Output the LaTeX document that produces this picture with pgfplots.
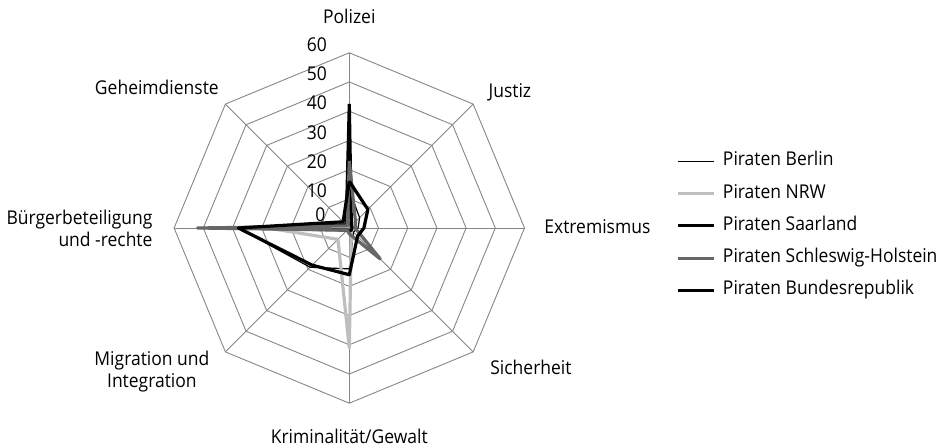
\documentclass[border=0pt]{standalone}
\usepackage{fontspec}
\setmainfont{Open Sans}[FakeStretch=0.92]
\usepackage{pgfplots}
\pgfplotsset{compat=1.18}
\definecolor{gridc}{HTML}{868686}
\definecolor{nrwc}{HTML}{BEBEBE}
\definecolor{shc}{HTML}{666666}
\begin{document}
\begin{tikzpicture}[x=1pt,y=1pt]
\path[use as bounding box] (0,0) rectangle (944,446);
\begin{axis}[
  at={(349.3pt,218pt)}, anchor=center,
  x=2.92pt, y=2.92pt,
  xmin=-60, xmax=60, ymin=-60, ymax=60,
  hide axis, clip=false, enlargelimits=false,
  font=\fontsize{19}{22}\selectfont,
  legend cell align=left,
  legend image code/.code={\draw[#1] (0pt,0pt) -- (36pt,0pt);},
  legend style={at={(1.434,0.506)}, anchor=west, draw=none, fill=none,
    inner sep=0pt, row sep=14.3pt, column sep=7pt,
    font=\fontsize{19}{22}\selectfont,
    nodes={inner sep=0pt, text height=13.5pt, text depth=4.5pt}},
]
% grid rings
\pgfplotsinvokeforeach{10,20,30,40,50,60}{
  \addplot[gridc, line width=0.9pt, forget plot, data cs=polar]
    coordinates {(90,#1) (45,#1) (0,#1) (-45,#1) (-90,#1) (-135,#1) (180,#1) (135,#1) (90,#1)};
}
% spokes
\pgfplotsinvokeforeach{90,45,0,-45,-90,-135,180,135}{
  \addplot[gridc, line width=0.9pt, forget plot, data cs=polar]
    coordinates {(#1,0) (#1,60)};
}
% series: Polizei, Justiz, Extremismus, Sicherheit, Kriminalitaet, Migration, Buerger, Geheimdienste
\addplot[black, line width=1.2pt, line join=round, data cs=polar]
  coordinates {(90,13) (45,5) (0,3) (-45,2) (-90,14) (-135,19) (180,38) (135,2) (90,13)};
\addlegendentry{Piraten Berlin}
\addplot[nrwc, line width=3.2pt, line join=round, data cs=polar]
  coordinates {(90,3) (45,2) (0,1) (-45,1) (-90,41) (-135,5.5) (180,28) (135,2) (90,3)};
\addlegendentry{Piraten NRW}
\addplot[black, line width=3.2pt, line join=round, data cs=polar]
  coordinates {(90,42.5) (45,1) (0,1) (-45,1) (-90,1) (-135,1) (180,38) (135,1.5) (90,42.5)};
\addlegendentry{Piraten Saarland}
\addplot[shc, line width=3.2pt, line join=round, data cs=polar]
  coordinates {(90,23) (45,3) (0,2) (-45,15) (-90,2) (-135,1) (180,52) (135,1) (90,23)};
\addlegendentry{Piraten Schleswig-Holstein}
\addplot[black, line width=3.2pt, line join=round, data cs=polar]
  coordinates {(90,16) (45,9) (0,5) (-45,4) (-90,16) (-135,18) (180,38) (135,3) (90,16)};
\addlegendentry{Piraten Bundesrepublik}
% value labels
\node[anchor=east] at (axis cs:-7,4.5) {0};
\pgfplotsinvokeforeach{10,20,30,40,50,60}{
  \node[anchor=east] at (axis cs:-6.5,#1+2.8) {#1};
}
% category labels
\node at (axis cs:0,72.3) {Polizei};
\node at (axis cs:55,46.6) {Justiz};
\node[anchor=west] at (axis cs:65.6,0.3) {Extremismus};
\node[anchor=west] at (axis cs:47.1,-47.6) {Sicherheit};
\node at (axis cs:0,-71.2) {Kriminalität/Gewalt};
\node[align=center] at (axis cs:-67.6,-49.3) {Migration und\\Integration};
\node[anchor=east, align=right] at (axis cs:-66.2,0) {Bürgerbeteiligung\\und -rechte};
\node at (axis cs:-65.9,48.3) {Geheimdienste};
\end{axis}
\end{tikzpicture}
\end{document}
